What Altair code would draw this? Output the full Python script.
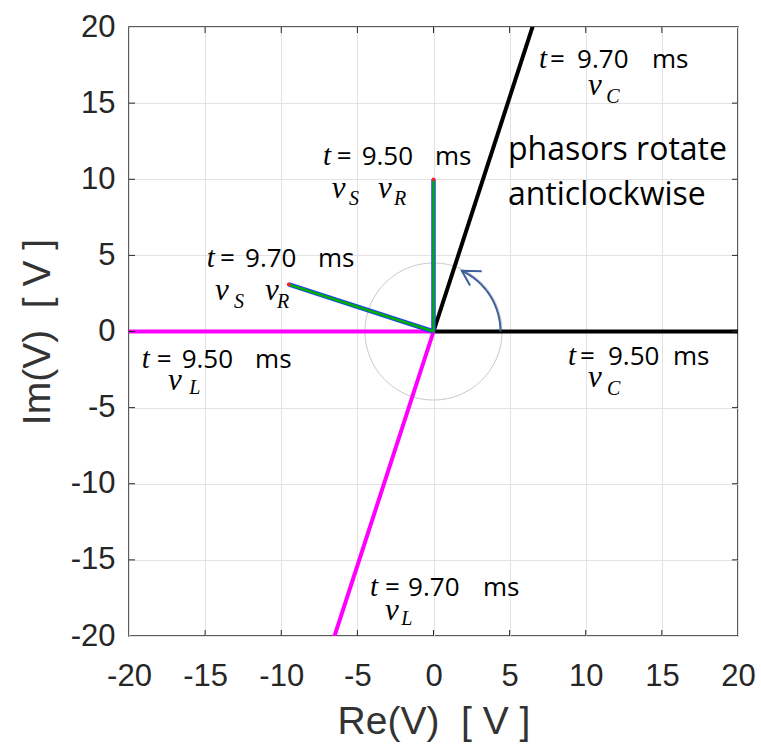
import altair as alt
import pandas as pd
import numpy as np

# ---------------- data ----------------
# phasor tips (Re, Im) in volts, at t = 9.50 ms and t = 9.70 ms
ph_time = ["9.50", "9.50", "9.50", "9.70", "9.70", "9.70"]
ph_name = ["vC", "vL", "vS", "vC", "vL", "vS"]
ph_re = [25.0, -25.0, 0.0, 7.73, -7.73, -9.51]
ph_im = [0.0, 0.0, 10.0, 23.78, -23.78, 3.09]

tick_vals = [-20, -15, -10, -5, 0, 5, 10, 15, 20]

# rotation-direction indicator (annotation geometry, data units)
guide_circle_r = 4.5
arrow_arc_r = 4.4
arrow_arc_end_deg = 65.0
arrow_arm1 = (3.17, 3.96)
arrow_arm2 = (2.40, 3.02)

# annotation texts (anchor positions in data units)
num_text = ["=", "9.50", "ms", "=", "9.70", "ms", "=", "9.50", "ms",
            "=", "9.50", "ms", "=", "9.70", "ms", "=", "9.70", "ms"]
num_x = [-6.36, -4.72, 0.10, -14.02, -12.38, -7.59, -18.18, -16.54, -11.72,
         9.62, 11.46, 15.73, 7.65, 9.43, 14.35, -3.19, -1.67, 3.25]
num_y = [10.94] * 3 + [4.24] * 3 + [-2.42] * 3 + [-2.20] * 3 + [17.31] * 3 + [-17.34] * 3

t_x = [-7.26, -14.90, -19.17, 8.83, 6.93, -4.17]
t_y = [10.94, 4.24, -2.42, -2.20, 17.31, -17.34]

v_x = [-6.69, -3.65, -14.35, -11.07, -17.44, 10.15, 10.15, -3.19]
v_y = [8.77, 8.77, 2.07, 2.07, -3.84, -3.64, 15.53, -18.95]
sub_text = ["S", "R", "S", "R", "L", "C", "C", "L"]
sub_x = [-5.55, -2.60, -13.10, -10.28, -16.05, 11.40, 11.35, -2.12]
sub_y = [8.30, 8.30, 1.55, 1.55, -4.10, -4.20, 14.98, -19.30]

note_text = ["phasors rotate", "anticlockwise"]
note_x = [4.89, 4.89]
note_y = [11.26, 8.31]

# ---------------- tables ----------------
ph = pd.DataFrame({"time": ph_time, "name": ph_name, "re": ph_re, "im": ph_im,
                   "x0": 0.0, "y0": 0.0})

ang = np.linspace(0, 2 * np.pi, 181)
circle = pd.DataFrame({"x": guide_circle_r * np.cos(ang),
                       "y": guide_circle_r * np.sin(ang),
                       "i": np.arange(len(ang))})
ang2 = np.radians(np.linspace(0, arrow_arc_end_deg, 60))
arc = pd.DataFrame({"x": arrow_arc_r * np.cos(ang2),
                    "y": arrow_arc_r * np.sin(ang2),
                    "i": np.arange(len(ang2))})
tip = (float(arc["x"].iloc[-1]), float(arc["y"].iloc[-1]))
head = pd.DataFrame({"x": [arrow_arm1[0], tip[0], arrow_arm2[0]],
                     "y": [arrow_arm1[1], tip[1], arrow_arm2[1]],
                     "i": [0, 1, 2]})

nums = pd.DataFrame({"x": num_x, "y": num_y, "text": num_text})
ts = pd.DataFrame({"x": t_x, "y": t_y, "text": ["t"] * len(t_x)})
vs = pd.DataFrame({"x": v_x, "y": v_y, "text": ["v"] * len(v_x)})
subs = pd.DataFrame({"x": sub_x, "y": sub_y, "text": sub_text})
notes = pd.DataFrame({"x": note_x, "y": note_y, "text": note_text})
ticks = pd.DataFrame({"v": tick_vals[1:-1]})

# ---------------- scales / axes ----------------
W = H = 609
xs = alt.Scale(domain=[-20, 20], nice=False, zero=False)
ys = alt.Scale(domain=[-20, 20], nice=False, zero=False)

ax_common = dict(values=tick_vals, grid=True, gridColor="#e3e3e3", gridWidth=1,
                 domain=False, ticks=False, labelFont="Liberation Sans",
                 labelFontSize=31, labelColor="#262626", titleFont="Liberation Sans",
                 titleFontSize=39, titleColor="#333333", titleFontWeight="normal",
                 labelFlush=False, labelOverlap=False,
                 labelExpr="datum.value + ''")
xax = alt.Axis(title="Re(V)\u00a0\u00a0[\u00a0V\u00a0]", labelPadding=25, titlePadding=11,
               **ax_common)
yax = alt.Axis(title="Im(V)\u00a0\u00a0[\u00a0V\u00a0]", labelPadding=14, titlePadding=13,
               **ax_common)

X = lambda f="x": alt.X(f"{f}:Q", scale=xs, axis=xax)
Y = lambda f="y": alt.Y(f"{f}:Q", scale=ys, axis=yax)

base_ph = alt.Chart(ph)

grid_holder = alt.Chart(ph).mark_point(opacity=0).encode(x=X("re"), y=Y("im"))

circ = alt.Chart(circle).mark_line(color="#c8c8c8", strokeWidth=1).encode(
    x=X(), y=Y(), order="i:Q")

vc = base_ph.transform_filter(alt.datum.name == "vC").mark_rule(
    color="black", strokeWidth=4, clip=True).encode(
    x=X("x0"), y=Y("y0"), x2="re", y2="im")
vl = base_ph.transform_filter(alt.datum.name == "vL").mark_rule(
    color="#ff00ff", strokeWidth=4, clip=True).encode(
    x=X("x0"), y=Y("y0"), x2="re", y2="im")
vsb = base_ph.transform_filter(alt.datum.name == "vS").mark_rule(
    color="#1f3cff", strokeWidth=4.5).encode(
    x=X("x0"), y=Y("y0"), x2="re", y2="im")
vrg = base_ph.transform_filter(alt.datum.name == "vS").mark_rule(
    color="#00b000", strokeWidth=2.5).encode(
    x=X("x0"), y=Y("y0"), x2="re", y2="im")
tipdot = base_ph.transform_filter(alt.datum.name == "vS").mark_point(
    filled=True, color="#ff2020", size=14, opacity=1).encode(x=X("re"), y=Y("im"))

arc_l = alt.Chart(arc).mark_line(color="#3d5f9a", strokeWidth=2).encode(
    x=X(), y=Y(), order="i:Q")
head_l = alt.Chart(head).mark_line(color="#3d5f9a", strokeWidth=2).encode(
    x=X(), y=Y(), order="i:Q")

txt_num = alt.Chart(nums).mark_text(font="Open Sans", fontSize=26, align="left",
                                    baseline="alphabetic", color="black").encode(
    x=X(), y=Y(), text="text:N")
txt_t = alt.Chart(ts).mark_text(font="Liberation Serif", fontStyle="italic", fontSize=29,
                                align="left", baseline="alphabetic", color="black").encode(
    x=X(), y=Y(), text="text:N")
txt_v = alt.Chart(vs).mark_text(font="Liberation Serif", fontStyle="italic", fontSize=31,
                                align="left", baseline="alphabetic", color="black").encode(
    x=X(), y=Y(), text="text:N")
txt_sub = alt.Chart(subs).mark_text(font="Liberation Serif", fontStyle="italic", fontSize=20,
                                    align="left", baseline="alphabetic", color="black").encode(
    x=X(), y=Y(), text="text:N")
txt_note = alt.Chart(notes).mark_text(font="Open Sans", fontSize=32, align="left",
                                      baseline="alphabetic", color="black").encode(
    x=X(), y=Y(), text="text:N")

tk = dict(color="#262626", strokeWidth=1)
tick_b = alt.Chart(ticks).mark_rule(**tk).encode(x=X("v"), y=alt.value(H), y2=alt.value(H - 6))
tick_t = alt.Chart(ticks).mark_rule(**tk).encode(x=X("v"), y=alt.value(0), y2=alt.value(6))
tick_l = alt.Chart(ticks).mark_rule(**tk).encode(y=Y("v"), x=alt.value(0), x2=alt.value(6))
tick_r = alt.Chart(ticks).mark_rule(**tk).encode(y=Y("v"), x=alt.value(W), x2=alt.value(W - 6))

chart = alt.layer(
    grid_holder, circ, vc, vl, vsb, vrg, tipdot, arc_l, head_l,
    txt_num, txt_t, txt_v, txt_sub, txt_note,
    tick_b, tick_t, tick_l, tick_r,
).properties(
    width=W, height=H,
    autosize=alt.AutoSizeParams(type="none"),
    padding={"left": 129, "top": 27, "right": 23, "bottom": 112},
    background="white",
).configure_view(stroke="#262626", strokeWidth=1.5)

chart.save("out.html", embed_options={"renderer": "svg", "actions": False})
